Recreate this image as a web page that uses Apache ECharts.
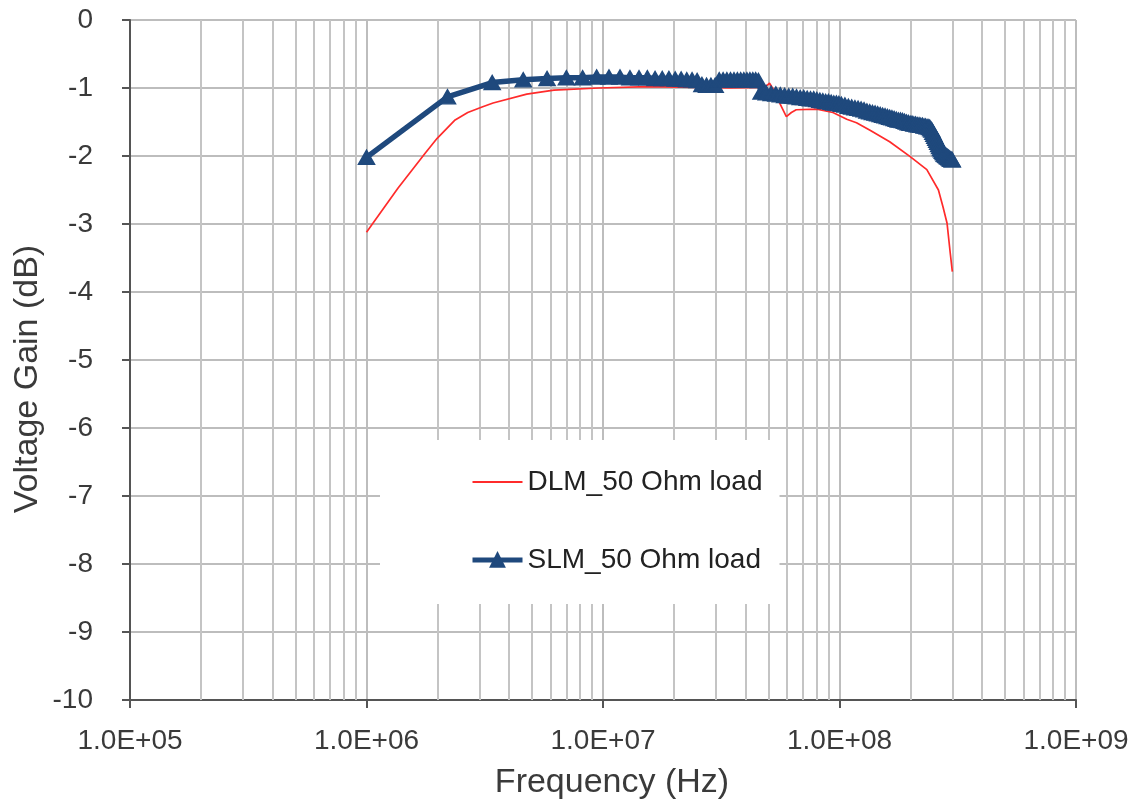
<!DOCTYPE html>
<html>
<head>
<meta charset="utf-8">
<script src="https://cdn.jsdelivr.net/npm/echarts@6/dist/echarts.min.js"></script>
<style>
html,body{margin:0;padding:0;background:#fff;}
#chart{width:1138px;height:805px;}
</style>
</head>
<body>
<div id="chart"></div>
<script>
// Frequencies in MHz (axis labels show Hz in E-notation)
const dlmFreqMHz = [1.0,1.36,1.77,1.99,2.37,2.68,3.08,3.43,4.76,6.2,
  9.6,15.4,24.9,34.5,46.0,49.4,50.6,53.2,55.8,59.6,
  62.6,65.6,80.3,93.8,107.3,118.0,134.6,163.0,199.0,234.0,
  262.0,274.0,285.0,294.0,300.0];
const dlmGain = [-3.12,-2.47,-1.96,-1.74,-1.47,-1.36,-1.28,-1.22,-1.09,-1.03,
  -1.00,-0.98,-0.99,-1.00,-0.99,-0.96,-0.93,-1.05,-1.22,-1.42,
  -1.36,-1.32,-1.31,-1.36,-1.46,-1.51,-1.62,-1.79,-2.01,-2.20,
  -2.50,-2.75,-2.99,-3.43,-3.70];

const slmFreqMHz = [1.0,2.2,3.4,4.6,5.8,7.0,8.2,9.4,10.6,11.8,
  13.0,14.2,15.4,16.6,17.8,19.0,20.2,21.4,22.6,23.8,
  25.0,26.2,27.4,28.6,29.8,
  31.0,32.2,33.4,34.6,35.8,37.0,38.2,39.4,40.6,41.8,43.0,44.2,45.4,
  46.6,49.0,51.4,53.8,56.2,58.6,61.0,63.4,65.8,68.2,70.6,73.0,75.4,77.8,80.2,82.6,85.0,87.4,89.8,92.2,94.6,97.0,99.4,101.8,
  105.4,109.0,112.6,116.2,119.8,123.4,127.0,130.6,134.2,137.8,141.4,145.0,148.6,152.2,155.8,159.4,163.0,166.6,170.2,173.8,177.4,181.0,184.6,188.2,191.8,195.4,199.0,
  202.6,206.2,209.8,213.4,217.0,220.6,224.2,227.8,231.4,235.0,238.6,
  241.0,243.4,245.8,248.2,250.6,253.0,255.4,257.8,260.2,262.6,265.0,267.4,269.8,272.2,274.6,277.0,279.4,281.8,284.2,286.6,289.0,291.4,293.8,296.2,298.6,299.8];
const slmGain = [-2.02,-1.13,-0.92,-0.88,-0.86,-0.85,-0.85,-0.84,-0.84,-0.84,
  -0.85,-0.85,-0.85,-0.86,-0.86,-0.86,-0.87,-0.87,-0.88,-0.88,
  -0.89,-0.95,-0.96,-0.96,-0.96,
  -0.88,-0.88,-0.88,-0.88,-0.88,-0.88,-0.88,-0.88,-0.88,-0.88,-0.88,-0.88,-0.89,
  -1.06,-1.07,-1.08,-1.09,-1.10,-1.11,-1.12,-1.12,-1.13,-1.14,-1.14,-1.15,-1.16,-1.16,-1.17,-1.18,-1.19,-1.20,-1.20,-1.21,-1.22,-1.22,-1.23,-1.24,
  -1.25,-1.27,-1.28,-1.29,-1.30,-1.31,-1.32,-1.34,-1.35,-1.36,-1.37,-1.38,-1.39,-1.40,-1.41,-1.42,-1.43,-1.44,-1.45,-1.46,-1.47,-1.47,-1.48,-1.49,-1.50,-1.51,-1.52,
  -1.52,-1.53,-1.53,-1.54,-1.54,-1.55,-1.55,-1.56,-1.56,-1.57,-1.57,
  -1.58,-1.60,-1.62,-1.65,-1.68,-1.71,-1.74,-1.77,-1.80,-1.83,-1.86,-1.89,-1.91,-1.93,-1.95,-1.97,-1.98,-1.99,-2.00,-2.01,-2.02,-2.03,-2.04,-2.05,-2.05,-2.06];

const minorGridMHz = [0.2,0.3,0.4,0.5,0.6,0.7,0.8,0.9,
  2,3,4,5,6,7,8,9,
  20,30,40,50,60,70,80,90,
  200,300,400,500,600,700,800,900];

const seriesNames = ['DLM_50 Ohm load','SLM_50 Ohm load'];
const xTitle = 'Frequency (Hz)';
const yTitle = 'Voltage Gain (dB)';

const FONT = '"Liberation Sans", Arial, sans-serif';
const RED = '#ff2b2b';
const BLUE = '#1f497d';
const chart = echarts.init(document.getElementById('chart'), null, {renderer:'canvas'});

const pair = (xs, ys) => xs.map((x, i) => [x, ys[i]]);

chart.setOption({
  animation: false,
  backgroundColor: '#ffffff',
  grid: {left: 130, right: 62, top: 20, bottom: 105, containLabel: false},
  xAxis: {
    type: 'log', logBase: 10, min: 0.1, max: 1000,
    axisLine: {show: true, onZero: false, lineStyle: {color: '#555', width: 2}},
    axisTick: {show: true, inside: false, length: 8, lineStyle: {color: '#555', width: 2}},
    axisLabel: {
      margin: 27, fontSize: 28, color: '#3a3a3a', fontFamily: FONT,
      formatter: v => { const e = Math.round(Math.log10(v)) + 6; return '1.0E+' + (e < 10 ? '0' + e : e); }
    },
    splitLine: {show: true, lineStyle: {color: '#bdbdbd', width: 2}},
    name: xTitle, nameLocation: 'middle', nameGap: 66,
    nameTextStyle: {fontSize: 34, color: '#3a3a3a', fontFamily: FONT, padding: [0, 0, 0, 18]}
  },
  yAxis: {
    type: 'value', min: -10, max: 0, interval: 1,
    axisLine: {show: true, onZero: false, lineStyle: {color: '#555', width: 2}},
    axisTick: {show: true, inside: false, length: 8, lineStyle: {color: '#555', width: 2}},
    axisLabel: {margin: 37, fontSize: 28, color: '#3a3a3a', fontFamily: FONT},
    splitLine: {show: true, lineStyle: {color: '#bdbdbd', width: 2}}
  },
  graphic: [{
    type: 'text', x: 28, y: 379, rotation: Math.PI / 2,
    style: {text: yTitle, font: '34px ' + FONT, fill: '#3a3a3a', align: 'center', verticalAlign: 'middle'}
  }],
  legend: {
    z: 10,
    data: [
      {name: seriesNames[0], itemStyle: {opacity: 0}, lineStyle: {width: 2, color: RED}},
      {name: seriesNames[1], lineStyle: {width: 5, color: BLUE}}
    ],
    orient: 'vertical', left: 380, top: 440,
    padding: [28, 17, 30, 90],
    backgroundColor: '#ffffff',
    itemWidth: 50, itemHeight: 17, itemGap: 50,
    textStyle: {fontSize: 28, color: '#222', fontFamily: FONT}
  },
  series: [
    {
      name: 'minorGrid', type: 'line', data: [], z: 1, silent: true,
      markLine: {
        silent: true, symbol: 'none', label: {show: false}, z: 1,
        lineStyle: {color: '#c4c4c4', width: 2, type: 'solid'},
        data: minorGridMHz.map(v => ({xAxis: v}))
      }
    },
    {
      name: seriesNames[0], type: 'line', z: 3,
      data: pair(dlmFreqMHz, dlmGain),
      showSymbol: false, symbol: 'none',
      lineStyle: {color: RED, width: 1.7},
      itemStyle: {color: RED}
    },
    {
      name: seriesNames[1], type: 'line', z: 4,
      data: pair(slmFreqMHz, slmGain),
      showSymbol: true, showAllSymbol: true,
      symbol: 'triangle', symbolSize: [16, 14],
      lineStyle: {color: BLUE, width: 5.5},
      itemStyle: {color: BLUE, borderColor: BLUE, borderWidth: 1.5}
    }
  ]
});
</script>
</body>
</html>
